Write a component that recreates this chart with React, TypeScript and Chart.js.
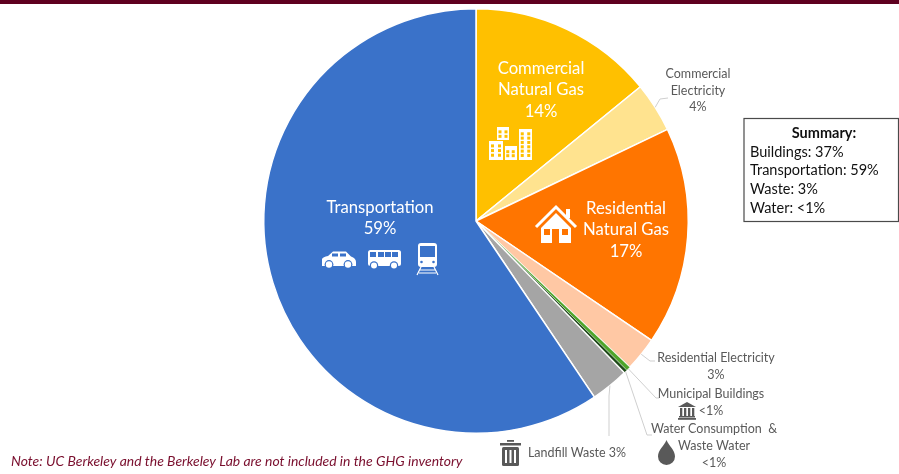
import React, { useEffect, useRef } from "react";
import { Chart, registerables } from "chart.js";

Chart.register(...registerables);

const categories = [
  "Commercial Natural Gas",
  "Commercial Electricity",
  "Residential Natural Gas",
  "Residential Electricity",
  "Municipal Buildings",
  "Water Consumption & Waste Water",
  "Landfill Waste",
  "Transportation",
];
const shares = [14.1, 3.8, 16.6, 2.6, 0.32, 0.26, 2.9, 59.42];
const colors = ["#FFC000", "#FFE38F", "#FF7500", "#FFC8A4", "#4FA52B", "#1E4A18", "#A5A5A5", "#3A72C9"];
const borders = [1.5, 1.5, 1.5, 1.5, 0.4, 0.4, 1.5, 1.5];

const summaryTitle = "Summary:";
const summaryLines = ["Buildings: 37%", "Transportation: 59%", "Waste: 3%", "Water: <1%"];
const note = "Note: UC Berkeley and the Berkeley Lab are not included in the GHG inventory";

const FONT = "Lato, 'Open Sans', sans-serif";
const DARK = "#595959";

const insideLabels: [string, number, number][] = [
  ["Commercial", 541, 69], ["Natural Gas", 541, 90], ["14%", 541, 112],
  ["Residential", 626, 209], ["Natural Gas", 626, 230], ["17%", 626, 252],
  ["Transportation", 380, 208], ["59%", 380, 229],
];
const outsideLabels: [string, number, number][] = [
  ["Commercial", 698, 74], ["Electricity", 698, 91], ["4%", 698, 107],
  ["Residential Electricity", 716, 358], ["3%", 716, 375],
  ["Municipal Buildings", 711, 394], ["<1%", 711, 411],
  ["Water Consumption  &", 714, 429], ["Waste Water", 714, 446], ["<1%", 714, 463],
  ["Landfill Waste 3%", 577, 453],
];
// slice index, then the elbow points of its leader line
const leaders: [number, [number, number][]][] = [
  [1, [[660, 99], [668, 98]]],
  [3, [[650, 361], [655, 361]]],
  [4, [[656, 398], [659, 398]]],
  [5, [[647, 435], [652, 435]]],
  [6, [[609, 396], [609, 436]]],
];

type C = CanvasRenderingContext2D;

function buildings(c: C) {
  c.fillStyle = "#fff";
  const blocks = [[489, 141, 14, 19, 2, 3], [497, 127, 12, 14, 2, 2], [505, 147, 11, 13, 2, 2], [519, 129, 13, 31, 2, 6]];
  c.fillRect(489, 141, 14, 19);
  c.fillRect(497, 127, 12, 13);
  c.fillRect(505, 146, 12, 14);
  c.fillRect(519, 129, 13, 31);
  c.fillStyle = "#FFC000";
  for (const [x, y, w, h, cols, rows] of blocks) {
    for (let i = 0; i < cols; i++) for (let j = 0; j < rows; j++) {
      const px = x + (w * (i + 0.5)) / cols - 1.5;
      const py = y + 2 + ((h - 5) * (j + 0.3)) / rows;
      c.fillRect(px, py, 3, 3);
    }
  }
}

function house(c: C) {
  c.strokeStyle = "#fff";
  c.fillStyle = "#fff";
  c.lineWidth = 3;
  c.beginPath();
  c.moveTo(536, 227); c.lineTo(556, 207); c.lineTo(576, 227);
  c.stroke();
  c.fillRect(566, 209, 4, 9);
  c.beginPath();
  c.moveTo(556, 213); c.lineTo(571, 228); c.lineTo(571, 243); c.lineTo(541, 243); c.lineTo(541, 228);
  c.closePath();
  c.fill();
  c.fillStyle = "#FF7500";
  c.fillRect(544, 229, 6, 6);
  c.fillRect(562, 229, 6, 6);
  c.fillRect(552, 229, 7, 14);
}

function car(c: C) {
  c.fillStyle = "#fff";
  c.beginPath();
  c.moveTo(322, 266); c.lineTo(322, 259); c.quadraticCurveTo(323, 257, 328, 256);
  c.lineTo(333, 251.5); c.lineTo(346, 251.5); c.lineTo(351, 256.5); c.quadraticCurveTo(356, 258, 356, 262);
  c.lineTo(356, 266); c.closePath(); c.fill();
  c.fillStyle = "#3A72C9";
  c.fillRect(332, 253.5, 6, 3); c.fillRect(340, 253.5, 6, 3);
  for (const x of [329, 348]) {
    c.beginPath(); c.arc(x, 264.5, 4.4, 0, 7); c.fillStyle = "#3A72C9"; c.fill();
    c.beginPath(); c.arc(x, 264.5, 3.2, 0, 7); c.fillStyle = "#fff"; c.fill();
  }
}

function bus(c: C) {
  c.fillStyle = "#fff";
  c.beginPath();
  c.roundRect(368, 250, 33, 16, 2.5);
  c.fill();
  c.fillStyle = "#3A72C9";
  for (const x of [370, 378, 385, 392]) c.fillRect(x, 252, 6, 5);
  for (const x of [374, 394]) {
    c.beginPath(); c.arc(x, 265.5, 4.2, 0, 7); c.fillStyle = "#3A72C9"; c.fill();
    c.beginPath(); c.arc(x, 265.5, 3, 0, 7); c.fillStyle = "#fff"; c.fill();
  }
}

function train(c: C) {
  c.fillStyle = "#fff";
  c.beginPath();
  c.roundRect(418, 243, 19, 24, 3);
  c.fill();
  c.fillStyle = "#3A72C9";
  c.fillRect(420, 246, 15, 11);
  c.beginPath(); c.arc(421.5, 262, 1.3, 0, 7); c.arc(433.5, 262, 1.3, 0, 7); c.fill();
  c.strokeStyle = "#fff";
  c.lineWidth = 1.2;
  c.beginPath();
  c.moveTo(421, 267); c.lineTo(417, 275); c.moveTo(434, 267); c.lineTo(438, 275);
  c.moveTo(420, 270); c.lineTo(435, 270); c.moveTo(419, 273); c.lineTo(436, 273);
  c.stroke();
}

function bank(c: C) {
  c.fillStyle = "#595959";
  c.beginPath();
  c.moveTo(678, 407); c.lineTo(687, 402); c.lineTo(696, 407); c.closePath(); c.fill();
  for (const x of [680, 684, 688, 692]) c.fillRect(x, 408, 2.3, 8);
  c.fillRect(679, 416, 16, 1.5);
  c.fillRect(678, 418, 18, 1.8);
}

function trash(c: C) {
  c.fillStyle = "#595959";
  c.fillRect(500, 443, 21, 2.5);
  c.fillRect(507, 440, 7, 1.8);
  c.beginPath();
  c.roundRect(502, 447, 17, 19, 1.5);
  c.fill();
  c.fillStyle = "#fff";
  for (const x of [505, 509.5, 514]) c.fillRect(x, 450, 2, 13);
}

function drop(c: C) {
  c.fillStyle = "#595959";
  c.beginPath();
  c.moveTo(666.5, 440);
  c.bezierCurveTo(664, 446, 658, 450, 658, 456.5);
  c.arc(666.5, 456.5, 8.5, Math.PI, 0, true);
  c.bezierCurveTo(675, 450, 669, 446, 666.5, 440);
  c.fill();
}

const decorations = {
  id: "decorations",
  afterDatasetsDraw(chart: Chart) {
    const c = chart.ctx;
    const arcs = chart.getDatasetMeta(0).data as any[];
    c.save();

    c.strokeStyle = "#CFCFCF";
    c.lineWidth = 1;
    for (const [i, pts] of leaders) {
      const a = arcs[i];
      const mid = (a.startAngle + a.endAngle) / 2;
      c.beginPath();
      c.moveTo(a.x + Math.cos(mid) * a.outerRadius, a.y + Math.sin(mid) * a.outerRadius);
      for (const [x, y] of pts) c.lineTo(x, y);
      c.stroke();
    }

    c.textAlign = "center";
    c.textBaseline = "middle";
    c.fillStyle = "#FFFFFF";
    c.font = `16.7px ${FONT}`;
    for (const [t, x, y] of insideLabels) c.fillText(t, x, y);

    c.fillStyle = DARK;
    c.font = `12.5px ${FONT}`;
    for (const [t, x, y] of outsideLabels) c.fillText(t, x, y);

    buildings(c); house(c); car(c); bus(c); train(c); bank(c); trash(c); drop(c);

    c.strokeStyle = "#4A4A4A";
    c.lineWidth = 1.2;
    c.fillStyle = "#fff";
    c.fillRect(744, 118.5, 154.5, 103);
    c.strokeRect(744, 118.5, 154.5, 103);
    c.fillStyle = "#111111";
    c.font = `bold 14.5px ${FONT}`;
    c.fillText(summaryTitle, 824, 133);
    c.textAlign = "left";
    c.font = `14.5px ${FONT}`;
    summaryLines.forEach((t, i) => c.fillText(t, 750, 152 + i * 18.7));

    c.fillStyle = "#7A0F2E";
    c.font = `italic 13.95px ${FONT}`;
    c.fillText(note, 11, 462);

    c.fillStyle = "#5F0020";
    c.fillRect(0, 0, 899, 4);
    c.restore();
  },
};

export default function App() {
  const ref = useRef<HTMLCanvasElement>(null);
  useEffect(() => {
    document.body.style.margin = "0";
    document.body.style.background = "#fff";
    const chart = new Chart(ref.current!, {
      type: "pie",
      data: {
        labels: categories,
        datasets: [{ data: shares, backgroundColor: colors, borderColor: "#FFFFFF", borderWidth: borders }],
      },
      options: {
        animation: false,
        responsive: false,
        layout: { padding: { top: 8, bottom: 40, left: 53, right: 0 } },
        plugins: { legend: { display: false }, tooltip: { enabled: false } },
      },
      plugins: [decorations],
    });
    return () => chart.destroy();
  }, []);
  return <canvas ref={ref} width={899} height={474} style={{ display: "block", filter: "blur(0.4px)" }} />;
}
